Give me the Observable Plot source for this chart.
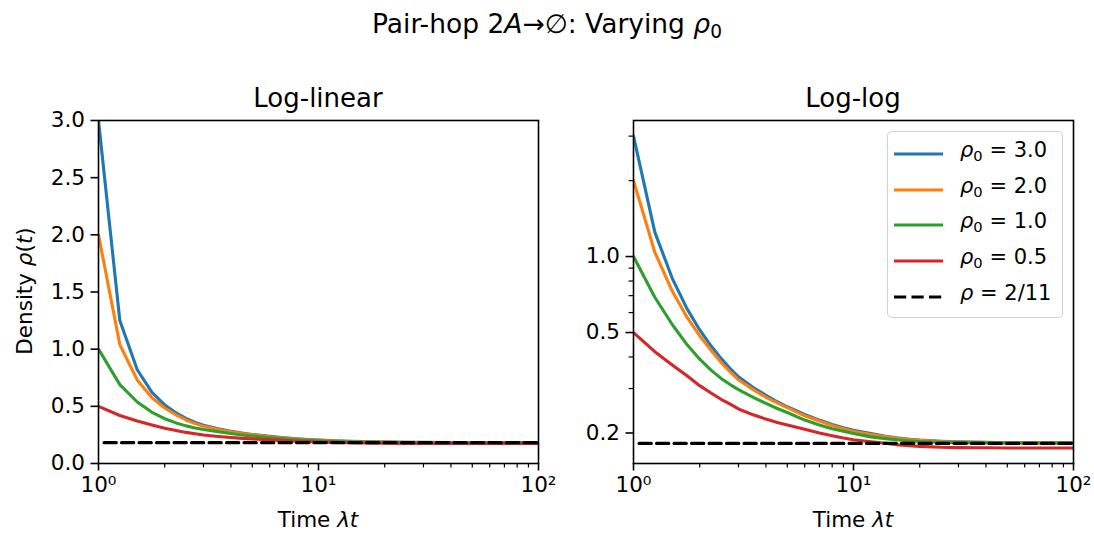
<!DOCTYPE html>
<html>
<head>
<meta charset="utf-8">
<script src="https://cdn.jsdelivr.net/npm/d3@7"></script>
<script src="https://cdn.jsdelivr.net/npm/@observablehq/plot@0.6"></script>
<style>
  body { margin: 0; background: #fff; font-family: "DejaVu Sans", sans-serif; }
  #fig { position: relative; width: 1094px; height: 534px; overflow: hidden; background: #fff; }
  .abs { position: absolute; white-space: nowrap; color: #000; line-height: 1; }
  .ctr { transform: translateX(-50%); }
  #fig svg { position: absolute; top: 0; }
  sub { font-size: 70%; vertical-align: -0.25em; line-height: 0; }
  .legend { position: absolute; left: 887px; top: 131px; width: 174px; height: 185px;
            border: 1.3px solid rgba(204,204,204,0.9); border-radius: 5px; background: rgba(255,255,255,0.8); }
  .lrow { position: absolute; left: 0; height: 0; }
  .lrow svg { position: absolute; left: 5px; top: -3px; overflow: visible; }
  .lrow span { position: absolute; left: 72px; top: -11px; font-size: 21px; white-space: nowrap; line-height: 1; }
</style>
</head>
<body>
<div id="fig"></div>
<script>
// ---------- data ----------
const times = [1, 1.25, 1.5, 1.75, 2, 2.25, 2.5, 2.75, 3, 3.5, 4, 4.5, 5, 6, 7, 8, 9, 10, 12, 14, 16, 18, 20, 25, 30, 40, 50, 70, 100];
const rho30 = [3.0, 1.25, 0.82, 0.622, 0.512, 0.443, 0.395, 0.36, 0.334, 0.303, 0.282, 0.266, 0.254, 0.237, 0.225, 0.216, 0.21, 0.205, 0.199, 0.194, 0.191, 0.189, 0.1875, 0.1855, 0.1845, 0.1835, 0.183, 0.1828, 0.1828];
const rho20 = [2.0, 1.04, 0.73, 0.575, 0.485, 0.425, 0.381, 0.349, 0.325, 0.297, 0.277, 0.263, 0.252, 0.234, 0.223, 0.214, 0.208, 0.203, 0.197, 0.193, 0.19, 0.1885, 0.187, 0.185, 0.184, 0.1833, 0.183, 0.1828, 0.1828];
const rho10 = [1.0, 0.69, 0.538, 0.448, 0.392, 0.355, 0.329, 0.311, 0.297, 0.277, 0.262, 0.25, 0.241, 0.225, 0.215, 0.208, 0.203, 0.199, 0.193, 0.19, 0.1875, 0.186, 0.185, 0.1838, 0.1832, 0.1828, 0.1826, 0.1826, 0.1826];
const rho05 = [0.5, 0.42, 0.372, 0.337, 0.308, 0.288, 0.272, 0.26, 0.249, 0.236, 0.227, 0.22, 0.215, 0.207, 0.2, 0.195, 0.191, 0.188, 0.1845, 0.182, 0.1795, 0.178, 0.177, 0.1755, 0.175, 0.1747, 0.1745, 0.1745, 0.1745];
const rho0Values = [3.0, 2.0, 1.0, 0.5];
const seriesColors = ["#1f77b4", "#ff7f0e", "#2ca02c", "#d62728"];
const plateau = 2 / 11;
const plateauT = [1.06, 100];
const plateauLabel = "2/11";
const xMajor = [1, 10, 100];
const xTickLabels = ["10⁰", "10¹", "10²"];
const xMinor = [2, 3, 4, 5, 6, 7, 8, 9, 20, 30, 40, 50, 60, 70, 80, 90];
const yLinTicks = [0, 0.5, 1, 1.5, 2, 2.5, 3];
const yLogMajor = [0.2, 0.5, 1];
const yLogMinor = [0.3, 0.4, 0.6, 0.7, 0.8, 0.9, 2, 3];
const yLinDomain = [0, 3];
const yLogDomain = [0.1514, 3.46];
const xDomain = [1, 100];

// ---------- tables ----------
const seriesArrays = [rho30, rho20, rho10, rho05];
const seriesKeys = rho0Values.map(v => "rho0=" + v.toFixed(1));
const rows = seriesArrays.flatMap((arr, k) => arr.map((r, i) => ({t: times[i], rho: r, series: seriesKeys[k]})));
const plateauRows = plateauT.map(t => ({t, rho: plateau}));
const fmt1 = d3.format(".1f");

function panel(yType, yDomain, yMajor, yMinor, width, ml, mr) {
  const marks = [
    Plot.line(rows, {x: "t", y: "rho", z: "series", stroke: "series", strokeWidth: 3.1, clip: true}),
    Plot.line(plateauRows, {x: "t", y: "rho", stroke: "black", strokeWidth: 3.2, strokeDasharray: "12.2,5.3", clip: true}),
    Plot.frame({stroke: "black", strokeWidth: 1.6}),
    Plot.axisX({ticks: xMajor, tickSize: 7.5, tickPadding: 6, strokeWidth: 1.6, label: null,
                tickFormat: d => xTickLabels[xMajor.indexOf(d)]}),
    Plot.axisX({ticks: xMinor, tickSize: 4.4, strokeWidth: 1.2, label: null, tickFormat: () => ""}),
    Plot.axisY({ticks: yMajor, tickSize: 7.5, tickPadding: 6, strokeWidth: 1.6, label: null, tickFormat: fmt1})
  ];
  if (yMinor) marks.push(Plot.axisY({ticks: yMinor, tickSize: 4.4, strokeWidth: 1.2, label: null, tickFormat: () => ""}));
  return Plot.plot({
    width, height: 534,
    marginLeft: ml, marginRight: mr, marginTop: 120, marginBottom: 71,
    style: {fontFamily: "DejaVu Sans", fontSize: "21.5px", background: "transparent", color: "black", overflow: "visible"},
    x: {type: "log", domain: xDomain},
    y: {type: yType, domain: yDomain},
    color: {domain: seriesKeys, range: seriesColors},
    marks
  });
}

const fig = document.getElementById("fig");
const left = panel("linear", yLinDomain, yLinTicks, null, 560, 98, 22);
left.style.left = "0px";
fig.appendChild(left);
const right = panel("log", yLogDomain, yLogMajor, yLogMinor, 534, 73, 21);
right.style.left = "560px";
fig.appendChild(right);

function addText(html, x, y, size, cls) {
  const d = document.createElement("div");
  d.className = "abs " + (cls || "ctr");
  d.style.left = x + "px"; d.style.top = y + "px"; d.style.fontSize = size + "px";
  d.innerHTML = html;
  fig.appendChild(d);
  return d;
}
addText("Pair-hop 2<i>A</i>→∅: Varying <i>ρ</i><sub>0</sub>", 547, 11, 26.5);
addText("Log-linear", 318, 85, 26);
addText("Log-log", 853, 85, 26);
addText("Time <i>λt</i>", 318, 509, 21.5);
addText("Time <i>λt</i>", 853, 509, 21.5);
const yl = addText("Density <i>ρ</i>(<i>t</i>)", 25, 291, 21.5, "");
yl.style.transform = "translate(-50%,-50%) rotate(-90deg)";

// legend
const lg = document.createElement("div");
lg.className = "legend";
fig.appendChild(lg);
const entries = rho0Values.map((v, k) => ({html: `<i>ρ</i><sub>0</sub> = ${v.toFixed(1)}`, color: seriesColors[k], dash: null}))
  .concat([{html: `<i>ρ</i> = ${plateauLabel}`, color: "black", dash: "12.2,5.3"}]);
entries.forEach((e, k) => {
  const r = document.createElement("div");
  r.className = "lrow";
  r.style.top = (19 + k * 35.65) + "px";
  r.innerHTML = `<svg width="50" height="6"><line x1="1" x2="50" y1="3" y2="3" stroke="${e.color}" stroke-width="${e.dash ? 3.2 : 3.1}" ${e.dash ? `stroke-dasharray="${e.dash}"` : ""}/></svg><span>${e.html}</span>`;
  lg.appendChild(r);
});
</script>
</body>
</html>
